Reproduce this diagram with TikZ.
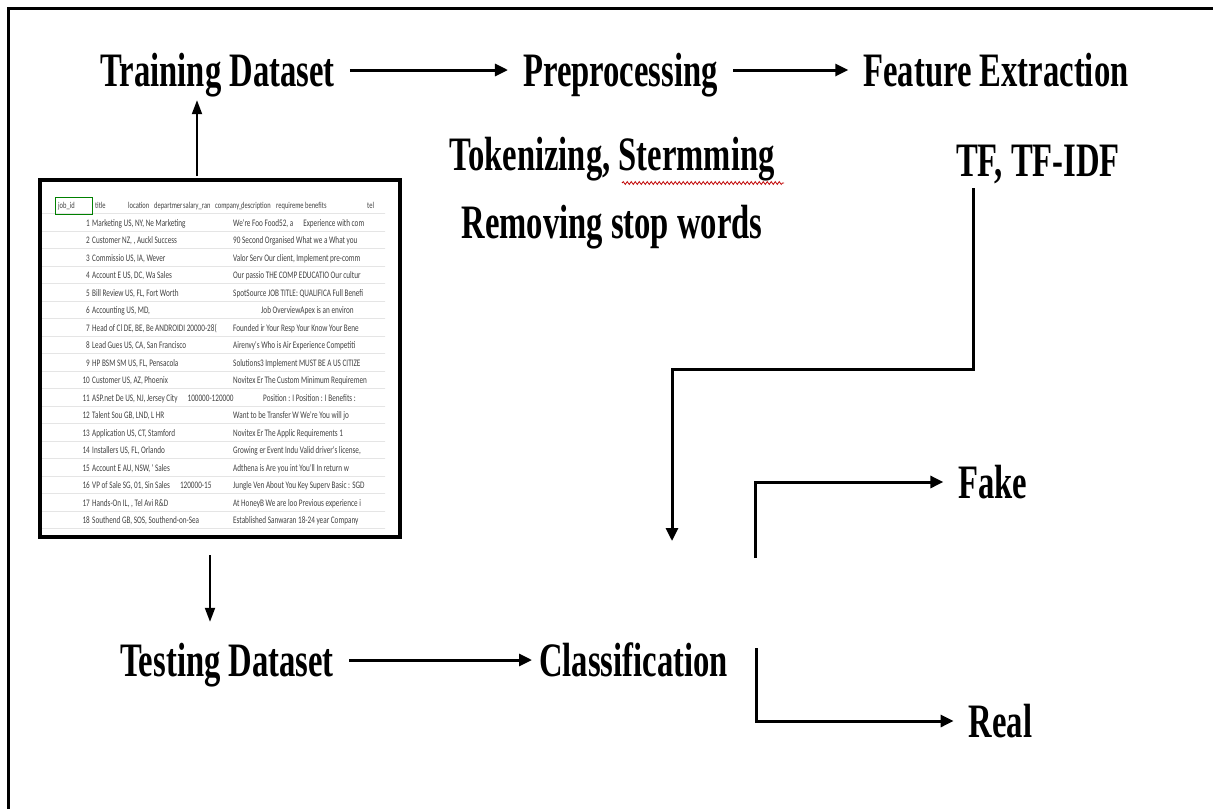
\documentclass[tikz,border=0pt]{standalone}
\usepackage{fontspec}
\newfontfamily\diagfont{Liberation Serif}[FakeStretch=0.68]
\newfontfamily\cellfont{Carlito}[FakeStretch=0.72]
\usetikzlibrary{arrows.meta, positioning, decorations.pathmorphing}

\begin{document}
\begin{tikzpicture}[x=1pt, y=-1pt,
          stage/.style={font={\diagfont\bfseries\fontsize{48}{56}\selectfont}, inner xsep=15pt, inner ysep=0pt, text height=32pt, text depth=0pt},
          arrow/.style={-{Triangle[length=13pt, width=12pt]}, line width=3pt},
          thinarrow/.style={-{Triangle[length=14pt, width=10pt]}, line width=2pt},
          sheetbox/.style={draw, line width=4pt, minimum width=360pt, minimum height=357pt, inner sep=0pt},
          cell/.style={font={\cellfont\fontsize{10}{11}\selectfont}, inner sep=0pt, text=black!75},
          headcell/.style={cell, font={\cellfont\fontsize{9}{10}\selectfont}}
        ]
          \useasboundingbox (0,0) rectangle (1213,809);
          \draw[line width=3pt] (1213,8) -- (8,8) -- (8,809);

          % spreadsheet snapshot
          \node[sheetbox] (sheet) at (220,358.5) {};
          \begin{scope}
            \clip (42,182) rectangle (385,535);
            \foreach \r in {0,...,18}
              \draw[gray!20, line width=0.6pt] (42,{213.75+17.5*\r}) -- (398,{213.75+17.5*\r});
            \draw[green!50!black, line width=0.8pt] (55,197) rectangle (92,214);
            \foreach \hd/\hx in {job\_id/58, title/95, location/128, departmer/154, salary\_ran/183, company\_/215, description/241, requireme/276, benefits/305, tel/367}
              \node[headcell, anchor=base west] (hd\hx) at (\hx,208.5) {\hd};
            \foreach \num/\lft/\rgt [count=\r] in {
                1/{Marketing US, NY, Ne Marketing}/{We're Foo Food52, a\quad Experience with com},
                2/{Customer NZ, , Auckl Success}/{90 Second Organised\ What we a What you},
                3/{Commissio US, IA, Wever}/{Valor Serv Our client, Implement pre-comm},
                4/{Account E US, DC, Wa Sales}/{Our passio THE COMP EDUCATIO Our cultur},
                5/{Bill Review US, FL, Fort Worth}/{SpotSource JOB TITLE: QUALIFICA Full Benefi},
                6/{Accounting US, MD,}/{\hspace{28pt}Job OverviewApex is an environ},
                7/{Head of Cl DE, BE, Be ANDROIDI 20000-28(}/{Founded ir Your Resp Your Know Your Bene},
                8/{Lead Gues US, CA, San Francisco}/{Airenvy's Who is Air Experience Competiti},
                9/{HP BSM SM US, FL, Pensacola}/{Solutions3 Implement MUST BE A US CITIZE},
                10/{Customer\ US, AZ, Phoenix}/{Novitex Er The Custom Minimum Requiremen},
                11/{ASP.net De US, NJ, Jersey City\quad 100000-120000}/{\hspace{30pt}Position : I Position : I Benefits :},
                12/{Talent Sou GB, LND, L HR}/{Want to be Transfer W We're\ You will jo},
                13/{Application US, CT, Stamford}/{Novitex Er The Applic Requirements\ 1},
                14/{Installers\ US, FL, Orlando}/{Growing er Event Indu Valid driver's license,},
                15/{Account E AU, NSW, ' Sales}/{Adthena is Are you int You'll In return w},
                16/{VP of Sale SG, 01, Sin Sales\quad 120000-15}/{Jungle Ven About You Key Superv Basic : SGD},
                17/{Hands-On IL, , Tel Avi R\&D}/{At HoneyB We are loo Previous experience i},
                18/{Southend GB, SOS, Southend-on-Sea}/{Established Sanwaran 18-24 year Company}}{
              \node[cell, anchor=base east] (num\r) at (90,{208.5+17.5*\r}) {\num};
              \node[cell, anchor=base west] (lft\r) at (92,{208.5+17.5*\r}) {\lft};
              \node[cell, anchor=base west] (rgt\r) at (233,{208.5+17.5*\r}) {\rgt};
            }
          \end{scope}

          \node[stage] (train) at (217.5,70) {Training Dataset};
          \node[stage] (prep) at (620.5,70) {Preprocessing};
          \node[stage] (feat) at (996,70) {Feature Extraction};
          \node[stage] (tok) at (612,154) {Tokenizing, Stermming};
          \node[stage, below=36pt of tok] (rem) {Removing stop words};
          \node[stage] (tfidf) at (1038,160) {TF, TF-IDF};
          \node[stage] (test) at (227,660) {Testing Dataset};
          \node[stage] (cls) at (633.5,660) {Classification};
          \node[stage] (fake) at (993,482) {Fake};
          \node[stage] (real) at (1000.5,721) {Real};

          \draw[red!75!black, line width=0.8pt, decorate, decoration={snake, amplitude=1.4pt, segment length=4pt}] (622,183) -- (784,183);

          \coordinate (bend) at (672,369);
          \coordinate (clsin) at (672,541);
          \coordinate (fstem) at (755,558);
          \coordinate (rstem) at (756,648);

          \draw[arrow] (train) -- (prep);
          \draw[arrow] (prep) -- (feat);
          \draw[arrow] (test) -- ([xshift=8pt]cls.west);
          \draw[thinarrow] ([xshift=-23pt, yshift=2pt]sheet.north) -- ([xshift=-20.5pt, yshift=-14pt]train.south);
          \draw[thinarrow] ([xshift=-10pt, yshift=-16pt]sheet.south) -- ([xshift=-17pt, yshift=22pt]test.north);
          \draw[arrow] ([xshift=-65pt, yshift=-12pt]tfidf.south) |- (bend) -- (clsin);
          \draw[arrow] (fstem) |- (fake);
          \draw[arrow] (rstem) |- (real);
        \end{tikzpicture}
\end{document}
